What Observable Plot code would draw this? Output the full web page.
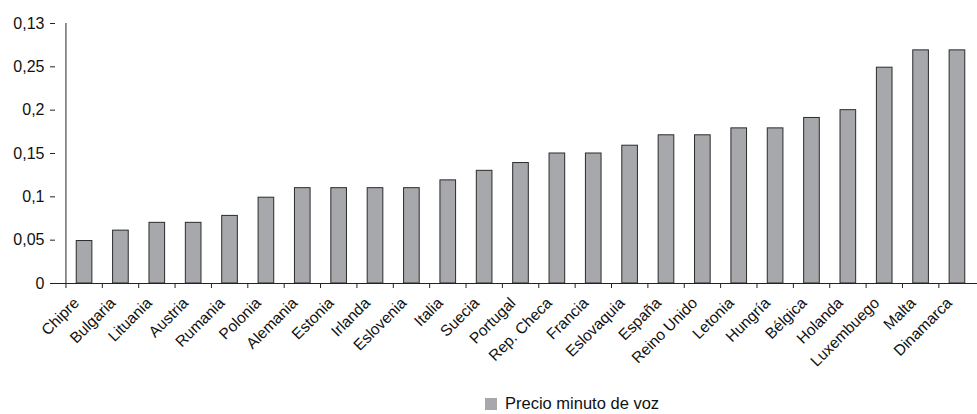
<!DOCTYPE html>
<html>
<head>
<meta charset="utf-8">
<script src="https://cdn.jsdelivr.net/npm/d3@7"></script>
<script src="https://cdn.jsdelivr.net/npm/@observablehq/plot@0.6"></script>
<style>
  html, body { margin: 0; padding: 0; background: #fff; overflow: hidden; }
  #chart svg { overflow: visible; display: block; }
  .legend { position: relative; height: 24px; font-family: "Liberation Sans", Arial, sans-serif; font-size: 16.5px; color: #111; }
  .legend .swatch { position: absolute; left: 485px; top: 8px; width: 12px; height: 12px; background: #a7a8ac; }
  .legend .label { position: absolute; left: 505px; top: 4px; line-height: 19px; }
</style>
</head>
<body>
<div id="chart"></div>
<div class="legend"><span class="swatch"></span><span class="label" id="legendLabel"></span></div>
<script>
// Price per voice minute by country
const countries = [
  "Chipre", "Bulgaria", "Lituania", "Austria", "Rumania", "Polonia", "Alemania",
  "Estonia", "Irlanda", "Eslovenia", "Italia", "Suecia", "Portugal", "Rep. Checa",
  "Francia", "Eslovaquia", "España", "Reino Unido", "Letonia", "Hungría", "Bélgica",
  "Holanda", "Luxembuego", "Malta", "Dinamarca"
];
const prices = [
  0.049, 0.061, 0.07, 0.07, 0.078, 0.099, 0.11,
  0.11, 0.11, 0.11, 0.119, 0.13, 0.139, 0.15,
  0.15, 0.159, 0.171, 0.171, 0.179, 0.179, 0.191,
  0.2, 0.249, 0.269, 0.269
];
const yTicks = [0, 0.05, 0.1, 0.15, 0.2, 0.25, 0.3];
const yTickLabels = ["0", "0,05", "0,1", "0,15", "0,2", "0,25", "0,13"];
const seriesName = "Precio minuto de voz";

const data = countries.map((c, i) => ({country: c, price: prices[i]}));

const xRange = [55.5, 985.5];
const step = (xRange[1] - xRange[0]) / countries.length;
const axisColor = "#222";

const chart = Plot.plot({
  width: 977,
  height: 390,
  marginLeft: 55,
  marginRight: 0,
  marginTop: 23,
  marginBottom: 107,
  style: {fontFamily: "'Liberation Sans', Arial, sans-serif", fontSize: "15px", color: "#111", background: "#fff"},
  x: {domain: countries, range: xRange, padding: 0.57, round: false, label: null},
  y: {domain: [0, 0.3], label: null},
  marks: [
    Plot.barY(data, {x: "country", y: "price", fill: "#a7a8ac", stroke: "#2b2b2b", strokeWidth: 1}),
    // axis lines
    Plot.ruleY([0], {stroke: axisColor}),
    Plot.ruleX([countries[0]], {x: (d) => d, dx: -step / 2, y1: 0, y2: 0.3, stroke: axisColor}),
    Plot.axisY({
      ticks: yTicks,
      tickFormat: (d) => yTickLabels[yTicks.indexOf(d)],
      tickSize: 5,
      tickPadding: 6,
      stroke: axisColor,
      fontSize: 16,
      label: null
    }),
    // tick marks between categories
    Plot.axisX({tickSize: 5, text: null, dx: -step / 2, stroke: axisColor, label: null}),
    Plot.axisX({
      tickSize: 0,
      tickRotate: -45,
      tickPadding: 8,
      dx: -8,
      dy: 9,
      fontSize: 15.5,
      label: null
    })
  ]
});

document.getElementById("chart").appendChild(chart);
document.getElementById("legendLabel").textContent = seriesName;
</script>
</body>
</html>
